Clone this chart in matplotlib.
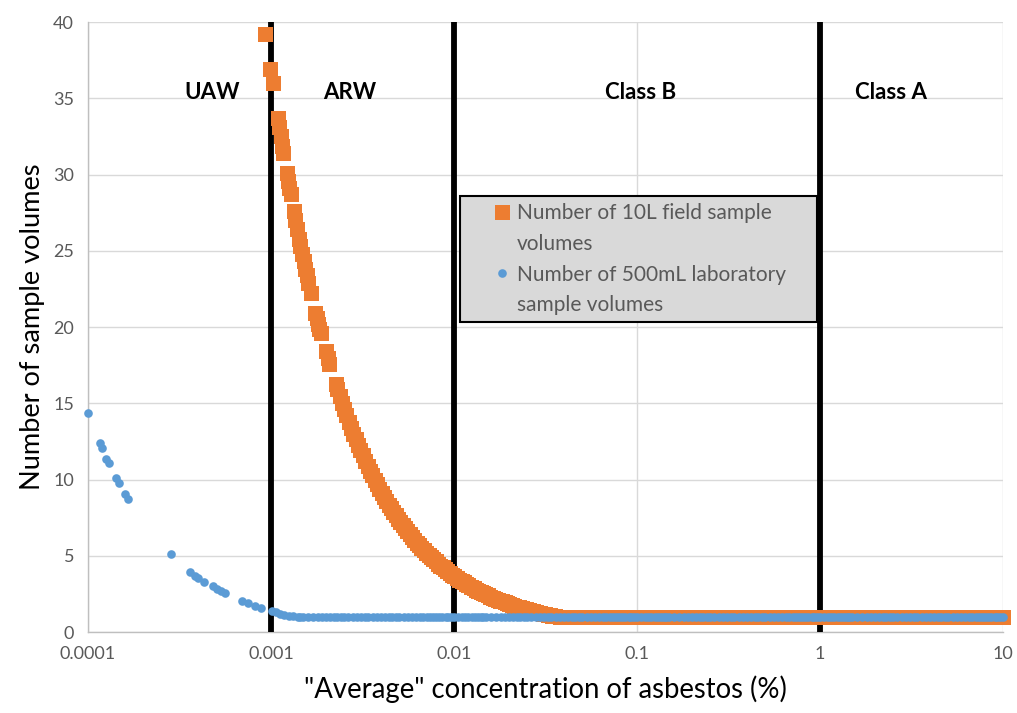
import matplotlib
matplotlib.use("Agg")
import matplotlib.pyplot as plt
from matplotlib.lines import Line2D
import numpy as np

plt.rcParams['font.family'] = ['Lato', 'DejaVu Sans']

# orange: number of 10L field sample volumes (curved part)
field_x = [0.000933, 0.000993, 0.00102,
           0.00109, 0.00111, 0.00113, 0.00115, 0.00117,
           0.00122, 0.00124, 0.00126, 0.00128,
           0.00133, 0.00136, 0.00139, 0.00142, 0.00145, 0.00148, 0.00151,
           0.00154, 0.00157, 0.0016, 0.00165,
           0.00175, 0.00178, 0.00181, 0.00184, 0.00187,
           0.0020, 0.00204, 0.00208,
           0.00226, 0.0023, 0.00237, 0.00244, 0.00251, 0.00258, 0.00266, 0.00274,
           0.00282, 0.0029, 0.00299, 0.00308, 0.00317, 0.00327, 0.00337, 0.00347,
           0.00357, 0.00368, 0.00379, 0.0039, 0.00402, 0.00414, 0.00426, 0.00439,
           0.00452, 0.00466, 0.0048, 0.00494, 0.00509, 0.00524, 0.0054, 0.00556,
           0.00573, 0.0059, 0.00608, 0.00626, 0.00645, 0.00664, 0.00684, 0.00705,
           0.00726, 0.00748, 0.0077, 0.00793, 0.00817, 0.00842, 0.00867, 0.00893,
           0.0092, 0.00948, 0.00976, 0.01005, 0.0104, 0.0107, 0.011, 0.0113,
           0.0117, 0.012, 0.0124, 0.0128, 0.0132, 0.0136, 0.014, 0.0144,
           0.0148, 0.0153, 0.0158, 0.0163, 0.0168, 0.0173, 0.0178, 0.0183,
           0.0189, 0.0195, 0.0201, 0.0207, 0.0213, 0.022, 0.0227, 0.0234,
           0.0241, 0.0248, 0.0256, 0.0264, 0.0272, 0.028, 0.0288, 0.0297,
           0.0306, 0.0315, 0.0325, 0.0335, 0.0345, 0.0355]
field_y = [39.2, 36.9, 36.0,
           33.7, 33.1, 32.5, 31.9, 31.4,
           30.1, 29.6, 29.1, 28.7,
           27.6, 27.0, 26.4, 25.8, 25.3, 24.8, 24.3,
           23.8, 23.4, 22.9, 22.2,
           20.9, 20.6, 20.2, 19.9, 19.6,
           18.4, 18.0, 17.6,
           16.24, 15.96, 15.49, 15.04, 14.62, 14.22, 13.80, 13.39,
           13.01, 12.66, 12.27, 11.92, 11.58, 11.22, 10.89, 10.58,
           10.28, 9.97, 9.68, 9.41, 9.13, 8.86, 8.62, 8.36,
           8.12, 7.88, 7.65, 7.43, 7.21, 7.00, 6.80, 6.60,
           6.40, 6.22, 6.04, 5.86, 5.69, 5.53, 5.37, 5.21,
           5.06, 4.91, 4.77, 4.63, 4.49, 4.36, 4.23, 4.11,
           3.99, 3.87, 3.76, 3.65, 3.53, 3.43, 3.34, 3.25,
           3.14, 3.06, 2.96, 2.87, 2.78, 2.70, 2.62, 2.55,
           2.48, 2.40, 2.32, 2.25, 2.18, 2.12, 2.06, 2.01,
           1.94, 1.88, 1.83, 1.77, 1.72, 1.67, 1.62, 1.57,
           1.52, 1.48, 1.43, 1.39, 1.35, 1.31, 1.27, 1.24,
           1.20, 1.17, 1.13, 1.10, 1.06, 1.03]

# blue: number of 500mL laboratory sample volumes (curved part)
lab_x = [0.0001, 0.000117, 0.00012, 0.000126, 0.00013, 0.000142, 0.000147,
         0.000159, 0.000166, 0.000283, 0.00036, 0.000384, 0.000401, 0.000431,
         0.00048, 0.000505, 0.000531, 0.000561, 0.000692, 0.000746, 0.000818,
         0.000879, 0.00101, 0.00107, 0.00112, 0.00118, 0.00125, 0.00132]
lab_y = [14.34, 12.37, 12.05, 11.32, 11.06, 10.08, 9.75,
         9.05, 8.72, 5.09, 3.95, 3.69, 3.56, 3.30,
         3.02, 2.84, 2.69, 2.58, 2.05, 1.92, 1.72,
         1.57, 1.40, 1.31, 1.2, 1.13, 1.08, 1.04]

# both series sit at 1 sample volume once the curve flattens out
plateau_value = 1.0
field_plateau_start = 0.0366
lab_plateau_start = 0.0014
grid_mantissa = [1.0, 1.05, 1.1, 1.15, 1.2, 1.25, 1.3, 1.35, 1.4, 1.45, 1.5, 1.6,
                 1.7, 1.8, 1.9, 2.0, 2.1, 2.2, 2.3, 2.4, 2.5, 2.65, 2.8, 2.95,
                 3.1, 3.25, 3.4, 3.6, 3.8, 4.0, 4.2, 4.4, 4.6, 4.8, 5.0, 5.3,
                 5.6, 5.9, 6.2, 6.5, 6.8, 7.1, 7.4, 7.7, 8.0, 8.3, 8.6, 9.0,
                 9.3, 9.6]
grid_decades = [-3, -2, -1, 0]
plateau_x = [m * 10.0 ** d for d in grid_decades for m in grid_mantissa] + [10.0]

field_label = ['Number of 10L field sample', 'volumes']
lab_label = ['Number of 500mL laboratory', 'sample volumes']

class_bounds = [0.001, 0.01, 1]
class_names = ['UAW', 'ARW', 'Class B', 'Class A']
class_label_x = [0.000476, 0.0027, 0.104, 2.44]
class_label_y = 35.4

xticks = [0.0001, 0.001, 0.01, 0.1, 1, 10]
xtick_labels = ['0.0001', '0.001', '0.01', '0.1', '1', '10']
yticks = [0, 5, 10, 15, 20, 25, 30, 35, 40]

orange = '#ED7D31'
blue = '#5B9BD5'

fig = plt.figure(figsize=(10.17, 7.13), dpi=100)
ax = fig.add_axes([0.0865, 0.1136, 0.8997, 0.8555])

fx = field_x + [x for x in plateau_x if x >= field_plateau_start]
fy = field_y + [plateau_value for x in plateau_x if x >= field_plateau_start]
lx = lab_x + [x for x in plateau_x if x >= lab_plateau_start]
ly = lab_y + [plateau_value for x in plateau_x if x >= lab_plateau_start]

h_field, = ax.plot(fx, fy, linestyle='none', marker='s', markersize=10.8, color=orange,
                   markeredgewidth=0, zorder=4, clip_on=False)
h_lab, = ax.plot(lx, ly, linestyle='none', marker='o', markersize=6.2, color=blue,
                 markeredgewidth=0, zorder=5, clip_on=False)

for b in class_bounds:
    ax.axvline(b, color='black', linewidth=4.2, zorder=3)

for name, x in zip(class_names, class_label_x):
    ax.text(x, class_label_y, name, ha='center', va='center', fontsize=16,
            fontweight='bold', color='black', zorder=6)

ax.set_xscale('log')
ax.set_xlim(0.0001, 10)
ax.set_ylim(0, 40)
ax.set_xticks(xticks)
ax.set_xticklabels(xtick_labels)
ax.xaxis.set_minor_locator(matplotlib.ticker.NullLocator())
ax.set_yticks(yticks)
ax.tick_params(axis='both', length=0, labelsize=13, labelcolor='#595959', pad=10)
ax.grid(True, color='#D9D9D9', linewidth=1, zorder=0)
ax.set_axisbelow(True)
for side in ['top', 'right']:
    ax.spines[side].set_visible(False)
for side in ['left', 'bottom']:
    ax.spines[side].set_color('#BFBFBF')
    ax.spines[side].set_linewidth(1)

ax.set_xlabel('"Average" concentration of asbestos (%)', fontsize=19.8, labelpad=10)
ax.set_ylabel('Number of sample volumes', fontsize=19.6, labelpad=6)

# legend: wrapped labels, marker on the first line of each entry
blank = Line2D([], [], linestyle='none', marker='none')
handles = [h_field, blank, h_lab, blank]
labels = [field_label[0], field_label[1], lab_label[0], lab_label[1]]
leg = ax.legend(handles, labels, loc='upper left',
                bbox_to_anchor=(0.4066, 0.5, 0.390, 0.2148),
                mode='expand', fontsize=15, frameon=True, fancybox=False,
                framealpha=1, borderpad=0.35, handletextpad=-0.95,
                labelspacing=0.51, handlelength=3.34, borderaxespad=0)
leg.get_frame().set_facecolor('#D9D9D9')
leg.get_frame().set_edgecolor('black')
leg.get_frame().set_linewidth(1.5)
leg.set_zorder(7)
for t in leg.get_texts():
    t.set_color('#595959')

plt.savefig('out.png', dpi=100)
